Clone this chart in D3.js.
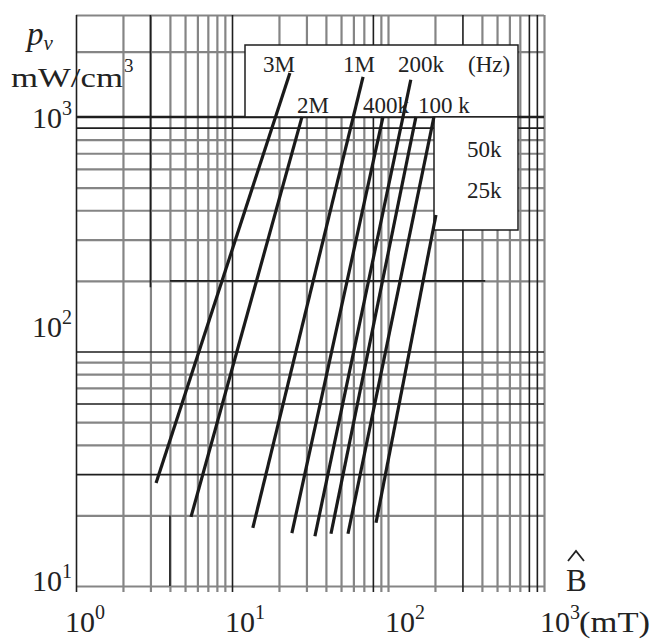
<!DOCTYPE html>
<html>
<head>
<meta charset="utf-8">
<script src="https://cdn.jsdelivr.net/npm/d3@7"></script>
<style>
  html, body { margin: 0; padding: 0; background: #fff; }
  svg { display: block; }
  text { font-family: "Liberation Serif", "Times New Roman", serif; fill: #222; }
</style>
</head>
<body>
<svg id="chart" width="656" height="640"></svg>
<script>
// Core-loss curves: volume loss density p_v versus peak flux density B, per frequency
const seriesNames = ["3M", "2M", "1M", "400k", "200k", "100k", "50k", "25k"];
const bLow  = [3.26, 5.46, 13.6, 24.2, 34.0, 43.1, 55.4, 83.8];   // mT
const pLow  = [27.5, 19.7, 17.7, 16.8, 16.3, 16.7, 16.7, 18.6];   // mW/cm^3
const bHigh = [23.5, 28.1, 69.2, 92.9, 140, 151, 197, 203];       // mT
const pHigh = [1540, 1000, 1480, 1000, 1440, 1000, 1000, 382];    // mW/cm^3

// Axis ranges and tick labels
const xDomain = [1, 1000];
const yDomain = [10, 2720];
const xTickValues = [1, 10, 100, 1000];
const yTickValues = [10, 100, 1000];

// Grid lines (light and dark rulings)
const xGridLight = [2, 3, 4, 5, 6, 7, 8, 9, 20, 30, 40, 50, 60, 70, 90, 100, 200, 400, 500, 600, 700, 1000];
const xGridDark  = [1, 10, 80, 300, 800, 900];
const yGridLight = [10, 20, 40, 50, 70, 80, 90, 200, 300, 400, 500, 600, 700, 800, 1900, 2720];
const yGridDark  = [30, 60, 100, 900, 1000];
// partial dark rulings: [value, from, to]
const xDarkParts = [[3, 188, 2720], [4, 10, 20]];
const yDarkParts = [[200, 4, 420]];

const svg = d3.select("#chart");
const plotLeft = 76, plotRight = 544, plotTop = 15, plotBottom = 586;

const x = d3.scaleLog().domain(xDomain).range([plotLeft, plotRight]);
const y = d3.scaleLog().domain(yDomain).range([plotBottom, plotTop]);

const LIGHT = "#858585", DARK = "#1e1e1e";

// vertical grid via bottom axes, running slightly below the frame
function vGrid(values, color, width) {
  const g = svg.append("g")
    .attr("transform", `translate(0,${plotBottom + 6})`)
    .call(d3.axisBottom(x).tickValues(values).tickSize(-(plotBottom + 6 - plotTop)).tickSizeOuter(0).tickFormat(""));
  g.select(".domain").remove();
  g.selectAll(".tick line").attr("stroke", color).attr("stroke-width", width);
}
function hGrid(values, color, width) {
  const g = svg.append("g")
    .attr("transform", `translate(${plotLeft},0)`)
    .call(d3.axisLeft(y).tickValues(values).tickSize(-(plotRight - plotLeft)).tickSizeOuter(0).tickFormat(""));
  g.select(".domain").remove();
  g.selectAll(".tick line").attr("stroke", color).attr("stroke-width", width);
}

hGrid(yGridLight, LIGHT, 2.2);
vGrid(xGridLight, LIGHT, 2.2);
hGrid(yGridDark, DARK, 1.6);
vGrid(xGridDark, DARK, 1.6);

svg.append("g").selectAll("line").data(xDarkParts).join("line")
  .attr("x1", d => x(d[0])).attr("x2", d => x(d[0]))
  .attr("y1", d => y(d[1])).attr("y2", d => y(d[2]))
  .attr("stroke", DARK).attr("stroke-width", 1.6);
svg.append("g").selectAll("line").data(yDarkParts).join("line")
  .attr("y1", d => y(d[0])).attr("y2", d => y(d[0]))
  .attr("x1", d => x(d[1])).attr("x2", d => x(d[2]))
  .attr("stroke", DARK).attr("stroke-width", 1.6);

// heavier 10^3 ruling
svg.append("line")
  .attr("x1", plotLeft).attr("x2", plotRight).attr("y1", y(1000)).attr("y2", y(1000))
  .attr("stroke", DARK).attr("stroke-width", 2.4);

// legend panels
svg.append("rect").attr("x", 245).attr("y", 45).attr("width", 273).attr("height", y(1000) - 45)
  .attr("fill", "#fff").attr("stroke", DARK).attr("stroke-width", 1.5);
svg.append("rect").attr("x", 434).attr("y", y(1000)).attr("width", 84).attr("height", 230 - y(1000))
  .attr("fill", "#fff").attr("stroke", DARK).attr("stroke-width", 1.5);

// loss curves
const curves = seriesNames.map((name, i) => ({
  name,
  pts: [[bLow[i], pLow[i]], [bHigh[i], pHigh[i]]]
}));
const line = d3.line().x(d => x(d[0])).y(d => y(d[1]));
svg.append("g").selectAll("path").data(curves).join("path")
  .attr("d", d => line(d.pts))
  .attr("fill", "none").attr("stroke", "#1a1a1a").attr("stroke-width", 3.2);

// frequency labels
const labelPos = [[263, 72], [297, 113], [343, 72], [363, 113], [398, 72], [418, 113], [467, 157], [467, 198]];
const labelText = seriesNames.map(s => s === "100k" ? "100 k" : s);
svg.append("g").selectAll("text").data(labelText).join("text")
  .attr("x", (d, i) => labelPos[i][0]).attr("y", (d, i) => labelPos[i][1])
  .attr("font-size", 23).text(d => d);
svg.append("text").attr("x", 468).attr("y", 72).attr("font-size", 23).text("(Hz)");

// x tick labels
const xLabelShift = [-11, -7, -3, -4];
xTickValues.forEach((v, i) => {
  const t = svg.append("text").attr("x", x(v) + xLabelShift[i]).attr("y", 632).attr("font-size", 30);
  t.append("tspan").text("10");
  t.append("tspan").attr("font-size", 20).attr("dy", -13).text(String(Math.round(Math.log10(v))));
});
svg.append("text").attr("x", 579).attr("y", 632).attr("font-size", 30)
  .attr("textLength", 71).attr("lengthAdjust", "spacingAndGlyphs").text("(mT)");

// y tick labels
const yLabelShift = [5, -14, 11];
yTickValues.forEach((v, i) => {
  const t = svg.append("text").attr("x", 32).attr("y", y(v) + yLabelShift[i]).attr("font-size", 30);
  t.append("tspan").text("10");
  t.append("tspan").attr("font-size", 20).attr("dy", -13).text(String(Math.round(Math.log10(v))));
});

// axis titles
const pv = svg.append("text").attr("x", 27).attr("y", 45).attr("font-size", 33).attr("font-style", "italic");
pv.append("tspan").text("p");
pv.append("tspan").attr("font-size", 21).attr("dy", 5).text("v");
svg.append("text").attr("x", 11).attr("y", 87).attr("font-size", 28)
  .attr("textLength", 112).attr("lengthAdjust", "spacingAndGlyphs").text("mW/cm");
svg.append("text").attr("x", 124).attr("y", 72).attr("font-size", 19).text("3");

svg.append("text").attr("x", 566).attr("y", 591).attr("font-size", 31).text("B");
svg.append("path").attr("d", "M568,561 L576,551 L584,561")
  .attr("fill", "none").attr("stroke", "#222").attr("stroke-width", 1.8);
</script>
</body>
</html>
